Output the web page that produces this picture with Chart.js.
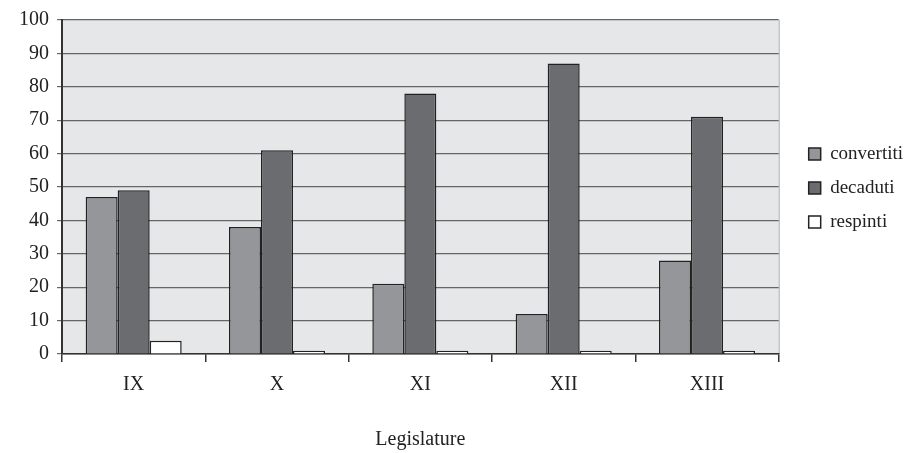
<!DOCTYPE html>
<html>
<head>
<meta charset="utf-8">
<script src="https://cdn.jsdelivr.net/npm/chart.js@4/dist/chart.umd.min.js"></script>
<style>
  html, body { margin: 0; padding: 0; background: #fff; }
  #wrap { width: 916px; height: 453px; }
</style>
</head>
<body>
<div id="wrap"><canvas id="chart-legislature"></canvas></div>
<script>
var legislature = ["IX", "X", "XI", "XII", "XIII"];
var convertiti = [47, 38, 21, 12, 28];
var decaduti = [49, 61, 78, 87, 71];
var respinti = [4, 1, 1, 1, 1];

var plotBackground = {
  id: "plotBackground",
  beforeDraw: function (chart) {
    var a = chart.chartArea;
    var c = chart.ctx;
    c.save();
    c.fillStyle = "#e6e7e9";
    c.fillRect(a.left, a.top, a.right - a.left, a.bottom - a.top);
    c.strokeStyle = "#aaaaaa";
    c.lineWidth = 1;
    c.beginPath();
    c.moveTo(a.right + 0.5, a.top);
    c.lineTo(a.right + 0.5, a.bottom);
    c.stroke();
    c.restore();
  },
};

// widen the legend box so the plot ends where the original does,
// then nudge the legend into the original's spot
var legendSpace = {
  id: "legendSpace",
  beforeInit: function (chart) {
    var lg = chart.legend;
    var fit = lg.fit;
    lg.fit = function () {
      fit.call(this);
      this.width += 18;
    };
  },
  afterLayout: function (chart) {
    var lg = chart.legend;
    lg.left += 15;
    lg.right += 15;
    lg.top -= 48;
    lg.bottom -= 48;
  },
};

var serif = "'Liberation Serif', 'DejaVu Serif', serif";

var ctx = document.getElementById("chart-legislature").getContext("2d");

new Chart(ctx, {
  type: "bar",
  data: {
    labels: legislature,
    datasets: [
      {
        label: "convertiti",
        data: convertiti,
        backgroundColor: "#959699",
        borderColor: "#222222",
        borderWidth: 1.5,
      },
      {
        label: "decaduti",
        data: decaduti,
        backgroundColor: "#6b6c70",
        borderColor: "#222222",
        borderWidth: 1.5,
      },
      {
        label: "respinti",
        data: respinti,
        backgroundColor: "#ffffff",
        borderColor: "#222222",
        borderWidth: 1.5,
      },
    ],
  },
  options: {
    responsive: true,
    maintainAspectRatio: false,
    animation: false,
    layout: {
      padding: { top: 20, left: 0, right: 0, bottom: 1 },
    },
    datasets: {
      bar: {
        categoryPercentage: 0.67,
        barPercentage: 1.0,
      },
    },
    plugins: {
      legend: {
        position: "right",
        align: "center",
        labels: {
          boxWidth: 12,
          boxHeight: 12,
          padding: 15,
          color: "#222",
          font: { family: serif, size: 19 },
        },
      },
      tooltip: { enabled: false },
    },
    scales: {
      y: {
        min: 0,
        max: 100,
        ticks: {
          stepSize: 10,
          padding: 8,
          color: "#222",
          font: { family: serif, size: 20 },
        },
        grid: {
          color: "#666666",
          lineWidth: 1.2,
          tickLength: 5,
          drawTicks: true,
        },
        border: {
          display: true,
          color: "#333333",
          width: 2,
        },
        afterFit: function (scale) {
          scale.width = 62;
        },
      },
      x: {
        ticks: {
          padding: 11,
          color: "#222",
          font: { family: serif, size: 20 },
        },
        grid: {
          offset: true,
          drawOnChartArea: false,
          drawTicks: true,
          tickLength: 8,
          color: "#333333",
          lineWidth: 1.5,
        },
        border: {
          display: true,
          color: "#333333",
          width: 1.5,
        },
        title: {
          display: true,
          text: "Legislature",
          color: "#222",
          font: { family: serif, size: 20 },
          padding: { top: 20, bottom: 0 },
        },
      },
    },
  },
  plugins: [plotBackground, legendSpace],
});
</script>
</body>
</html>
